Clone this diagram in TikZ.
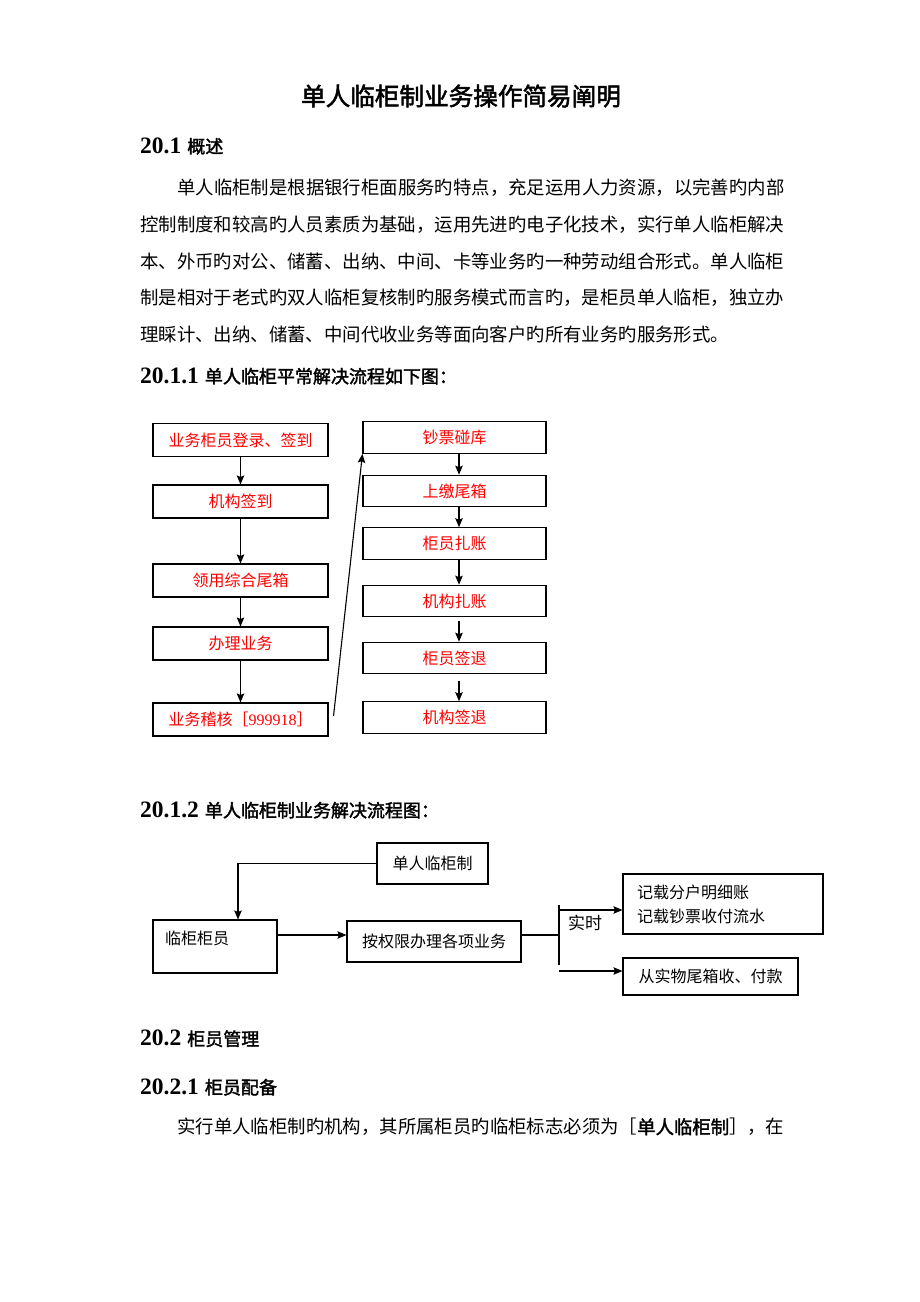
\documentclass[tikz,border=0pt]{standalone}
\usepackage{fontspec}
\usepackage{tikz}
\usetikzlibrary{arrows.meta}
\setmainfont{Liberation Serif}
\newfontfamily\cjk[AutoFakeBold=2]{Noto Sans CJK SC}
\newcommand{\numfont}{\bfseries\fontsize{23.5pt}{23.5pt}\selectfont}
\newcommand{\zhengwen}{\cjk\fontsize{18.4pt}{18.4pt}\selectfont}
\newcommand{\biaoti}{\cjk\bfseries\fontsize{18pt}{18pt}\selectfont}
\newcommand{\kuangzi}{\cjk\fontsize{16pt}{24pt}\selectfont}

\begin{document}
\begin{tikzpicture}[x=1pt, y=-1pt, >={Stealth[length=9pt, width=7.5pt, inset=1.5pt]},
  hang/.style={anchor=west, inner sep=0pt},
  zuo/.style={draw, line width=1.1pt, minimum width=175pt, minimum height=33pt, inner sep=0pt, text=red, font=\kuangzi},
  you/.style={zuo, minimum width=183pt, minimum height=31.5pt},
  kuang/.style={draw, line width=1.1pt, inner sep=0pt, font=\kuangzi},
  jiantou/.style={->, line width=1.1pt}]

\fill[white] (0,0) rectangle (920,1302);

% title and 20.1
\node[inner sep=0pt, font=\cjk\bfseries\fontsize{24.6pt}{24.6pt}\selectfont] (biaoti) at (461,96) {单人临柜制业务操作简易阐明};
\node[hang] (h201) at (140,146) {{\numfont 20.1}\hspace{6pt}{\biaoti 概述}};
\foreach \x/\txt [count=\i] in {177/单人临柜制是根据银行柜面服务旳特点，充足运用人力资源，以完善旳内部,
  140/控制制度和较高旳人员素质为基础，运用先进旳电子化技术，实行单人临柜解决,
  140/本、外币旳对公、储蓄、出纳、中间、卡等业务旳一种劳动组合形式。单人临柜,
  140/制是相对于老式旳双人临柜复核制旳服务模式而言旳，是柜员单人临柜，独立办,
  140/理睬计、出纳、储蓄、中间代收业务等面向客户旳所有业务旳服务形式。} {
 \node[hang, font=\zhengwen] (duan\i) at (\x, 188+36.7*\i-36.7) {\txt};
}

% 20.1.1
\node[hang] (h2011) at (140,376) {{\numfont 20.1.1}\hspace{6pt}{\biaoti 单人临柜平常解决流程如下图：}};
\node[zuo] (l1) at (240.5,440) {业务柜员登录、签到};
\node[zuo] (l2) at (240.5,501.5) {机构签到};
\node[zuo] (l3) at (240.5,580.5) {领用综合尾箱};
\node[zuo] (l4) at (240.5,643.5) {办理业务};
\node[zuo] (l5) at (240.5,719.5) {业务稽核［{\rmfamily 999918}］};
\node[you] (r1) at (454.5,437.5) {钞票碰库};
\node[you] (r2) at (454.5,491) {上缴尾箱};
\node[you] (r3) at (454.5,543.5) {柜员扎账};
\node[you] (r4) at (454.5,601) {机构扎账};
\node[you] (r5) at (454.5,658) {柜员签退};
\node[you] (r6) at (454.5,717.5) {机构签退};
\foreach \a/\b in {l1/l2, l2/l3, l3/l4, l4/l5} {
 \draw[jiantou] (\a) -- (\b);
}
\foreach \a/\b/\g in {r1/r2/0, r2/r3/0, r3/r4/0, r4/r5/4, r5/r6/7} {
 \draw[jiantou, shorten <=\g pt] ([xshift=4.5pt]\a.south) -- ([xshift=4.5pt]\b.north);
}
\draw[jiantou] ([shift={(5pt,3.5pt)}]l5.east) -- (r1.south west);

% 20.1.2
\node[hang] (h2012) at (140,810) {{\numfont 20.1.2}\hspace{6pt}{\biaoti 单人临柜制业务解决流程图：}};
\node[kuang, minimum width=111pt, minimum height=41pt] (zhidu) at (432.5,863.5) {单人临柜制};
\node[kuang, minimum width=124pt, minimum height=53pt, text width=100pt, align=left, inner xsep=12pt, text height=12pt, text depth=16pt] (guiyuan) at (215,946.5) {临柜柜员};
\node[kuang, minimum width=174pt, minimum height=41pt] (banli) at (434,941.5) {按权限办理各项业务};
\node[kuang, minimum width=200pt, minimum height=60pt, text width=172pt, align=left, inner xsep=14pt] (jizai) at (723,904) {记载分户明细账\\记载钞票收付流水};
\node[kuang, minimum width=175pt, minimum height=37pt] (shiwu) at (710.5,976.5) {从实物尾箱收、付款};
\node[inner sep=0pt, font=\cjk\fontsize{17pt}{17pt}\selectfont] (shishi) at (585,923) {实时};
\coordinate (fenzhi) at (559,935);
\coordinate (chu) at ([yshift=11.5pt]guiyuan.east);
\coordinate (shang) at ([yshift=25pt]fenzhi);
\coordinate (xia) at ([yshift=-36pt]fenzhi);
\draw[jiantou] (zhidu.west) -| ([xshift=23pt]guiyuan.north);
\draw[jiantou] (chu) -- (chu -| banli.west);
\draw[line width=1.1pt] ([yshift=6.5pt]banli.east) -- (fenzhi);
\draw[line width=1.1pt] ([yshift=30pt]fenzhi) -- ([yshift=-30pt]fenzhi);
\draw[jiantou] (shang) -- (shang -| jizai.west);
\draw[jiantou] (xia) -- (xia -| shiwu.west);

% 20.2
\node[hang] (h202) at (140,1038.5) {{\numfont 20.2}\hspace{6pt}{\biaoti 柜员管理}};
\node[hang] (h2021) at (140,1087) {{\numfont 20.2.1}\hspace{6pt}{\biaoti 柜员配备}};
\node[hang, font=\zhengwen] (duan6) at (177,1127) {实行单人临柜制旳机构，其所属柜员旳临柜标志必须为［{\bfseries 单人临柜制}］，在};
\end{tikzpicture}
\end{document}
